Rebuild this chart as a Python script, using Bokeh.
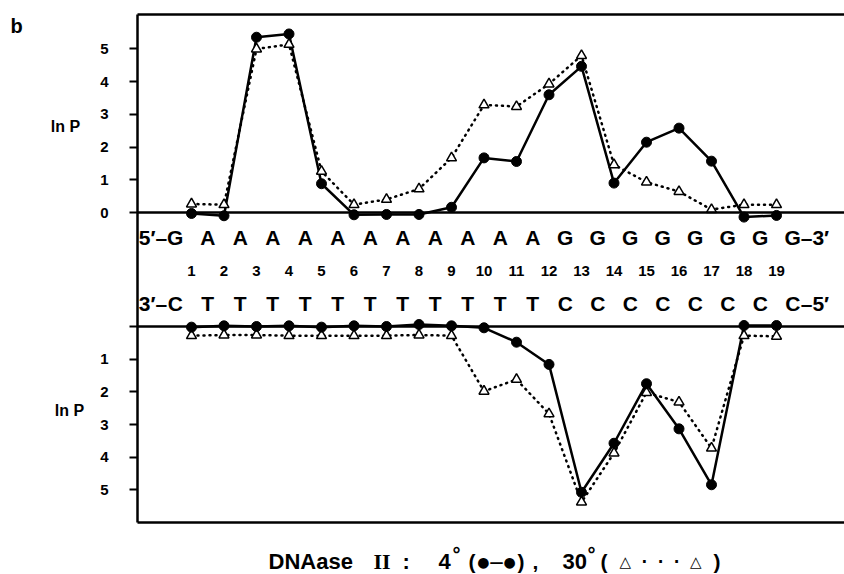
from bokeh.plotting import figure
from bokeh.models import (Range1d, LinearAxis, FixedTicker, Span, ColumnDataSource)
from bokeh.layouts import row, column
from bokeh.embed import file_html
from bokeh.resources import INLINE
from bokeh.core.properties import value

# ---------------- data ----------------
positions = list(range(1, 20))

# upper strand, ln P
top_4c = [-0.03, -0.10, 5.36, 5.46, 0.88, -0.07, -0.06, -0.06, 0.16, 1.67,
          1.56, 3.60, 4.47, 0.90, 2.15, 2.58, 1.57, -0.14, -0.09]
top_30c = [0.26, 0.24, 5.00, 5.14, 1.26, 0.24, 0.40, 0.72, 1.67, 3.29,
           3.24, 3.93, 4.80, 1.46, 0.93, 0.64, 0.09, 0.24, 0.24]

# lower strand, ln P (plotted downward)
bot_4c = [0.02, -0.02, 0.00, -0.02, 0.02, -0.02, 0.00, -0.06, -0.02, 0.04,
          0.48, 1.16, 5.07, 3.57, 1.75, 3.13, 4.84, -0.03, -0.03]
bot_30c = [0.28, 0.26, 0.26, 0.28, 0.28, 0.28, 0.28, 0.26, 0.28, 1.98,
           1.62, 2.67, 5.37, 3.87, 2.02, 2.31, 3.72, 0.28, 0.30]

upper_seq = list("GAAAAAAAAAAAGGGGGGGG")
lower_seq = list("CTTTTTTTTTTTCCCCCCCC")
seq_x = [k + 0.5 for k in range(len(upper_seq))]   # bases sit between cut sites
number_labels = [str(i) for i in positions]

top_ticks = [0, 1, 2, 3, 4, 5]
bot_ticks = [0, 1, 2, 3, 4, 5]

side_texts = ["b", "ln P", "ln P"]
NB = "\u00a0"
# caption pieces: text, x (px), size, raised?, align, font
caption_parts = [
    ("DNAase", 268, "22px", False, "left", "Liberation Sans"),
    ("II", 373, "22px", False, "left", "Liberation Serif"),
    (":", 402, "22px", False, "left", "Liberation Sans"),
    ("4", 438, "22px", False, "left", "Liberation Sans"),
    ("\u00b0", 452, "20px", True, "left", "Liberation Sans"),
    ("(", 468, "21px", False, "left", "Liberation Sans"),
    ("\u25cf\u2014\u25cf", 496, "14px", False, "center", "DejaVu Sans"),
    (")", 517, "21px", False, "left", "Liberation Sans"),
    (",", 532, "21px", False, "left", "Liberation Sans"),
    ("30", 562, "22px", False, "left", "Liberation Sans"),
    ("\u00b0", 587, "20px", True, "left", "Liberation Sans"),
    ("(", 600, "21px", False, "left", "Liberation Sans"),
    ("\u25b3" + NB * 2 + "\u00b7" + NB * 2 + "\u00b7" + NB * 2 + "\u00b7" + NB * 2 + "\u25b3",
     660, "15px", False, "center", "DejaVu Sans"),
    (")", 713, "21px", False, "left", "Liberation Sans"),
]

FONT = "Liberation Sans"
W, H = 844, 574
LEFT_W = 97
FRAME_LEFT = 137
FRAME_BOTTOM = 522

# ---------------- left strip with the side labels ----------------
left = figure(width=LEFT_W, height=H, output_backend="svg", toolbar_location=None,
              x_range=Range1d(0, LEFT_W), y_range=Range1d(H, 0),
              min_border=0, outline_line_color=None)
left.axis.visible = False
left.grid.visible = False
left.text(x=[16], y=[25], text=[side_texts[0]], text_font=value(FONT),
          text_font_style="bold", text_font_size="20px", text_align="center",
          text_baseline="middle", text_color="black")
left.text(x=[65, 69], y=[126, 410], text=side_texts[1:], text_font=value(FONT),
          text_font_style="bold", text_font_size="16px", text_align="center",
          text_baseline="middle", text_color="black")

# ---------------- main chart ----------------
TOP = (-9.48, 6.055)      # (start, end) of upper-strand scale
BOT = (5.994, -9.541)     # lower-strand scale, increasing downward
X = (-0.6615, 21.092)

def bot_to_top(v):
    frac = (v - BOT[0]) / (BOT[1] - BOT[0])
    return round(TOP[0] + frac * (TOP[1] - TOP[0]), 5)

p = figure(width=W - LEFT_W, height=FRAME_BOTTOM + 2, output_backend="svg",
           toolbar_location=None, x_range=Range1d(*X), y_range=Range1d(*TOP),
           min_border_left=FRAME_LEFT - LEFT_W, min_border_right=0, min_border_top=14,
           min_border_bottom=2)
p.extra_y_ranges = {"bot": Range1d(*BOT)}
p.grid.visible = False
p.outline_line_color = None

# x axes: only lines (frame top and bottom)
p.xaxis.ticker = FixedTicker(ticks=[])
p.xaxis.axis_line_width = 2.5
p.xaxis.major_label_text_font_size = "0px"
p.xaxis.major_tick_line_color = None
p.xaxis.minor_tick_line_color = None
p.xaxis.major_tick_out = 0
p.xaxis.major_label_standoff = 0
top_ax = LinearAxis(ticker=FixedTicker(ticks=[]), axis_line_width=2.5,
                    major_label_text_font_size="0px", major_tick_out=0,
                    major_label_standoff=0,
                    major_tick_line_color=None, minor_tick_line_color=None)
p.add_layout(top_ax, "above")

# y axis: labels for both panels
yt = [float(t) for t in top_ticks] + [bot_to_top(t) for t in bot_ticks]
overrides = {float(t): str(t) for t in top_ticks}
for t in bot_ticks:
    overrides[bot_to_top(t)] = "" if t == 0 else str(t)
p.yaxis.ticker = FixedTicker(ticks=yt)
p.yaxis.major_label_overrides = overrides
p.yaxis.axis_line_width = 2.5
p.yaxis.major_tick_line_width = 2
p.yaxis.major_tick_out = 8
p.yaxis.major_tick_in = 0
p.yaxis.minor_tick_line_color = None
p.yaxis.major_label_standoff = 21
p.yaxis.major_label_text_font = FONT
p.yaxis.major_label_text_font_style = "bold"
p.yaxis.major_label_text_font_size = "15px"
p.yaxis.major_label_text_color = "black"

# zero lines
p.add_layout(Span(location=0, dimension="width", line_color="black", line_width=2.5))
p.add_layout(Span(location=0, dimension="width", line_color="black", line_width=2.5,
                  y_range_name="bot"))

# ---------------- series ----------------
DOT = "1 5"
p.line(positions, top_30c, line_color="black", line_width=2.5, line_dash=DOT, line_cap="round")
p.line(positions, top_4c, line_color="black", line_width=2.5)
p.scatter(positions, top_30c, marker="triangle", size=10, fill_color="white",
          line_color="black", line_width=1.5)
p.scatter(positions, top_4c, marker="circle", size=10, fill_color="black",
          line_color="black")

p.line(positions, bot_30c, line_color="black", line_width=2.5, line_dash=DOT,
       line_cap="round", y_range_name="bot")
p.line(positions, bot_4c, line_color="black", line_width=2.5, y_range_name="bot")
p.scatter(positions, bot_30c, marker="triangle", size=10, fill_color="white",
          line_color="black", line_width=1.5, y_range_name="bot")
p.scatter(positions, bot_4c, marker="circle", size=10, fill_color="black",
          line_color="black", y_range_name="bot")

# ---------------- sequence text ----------------
ROW_UP, ROW_NUM, ROW_LO = -0.77, -1.80, -2.78
seq_src = ColumnDataSource(dict(x=seq_x, up=upper_seq, lo=lower_seq,
                                yu=[ROW_UP] * len(seq_x), yl=[ROW_LO] * len(seq_x)))
common = dict(text_font=value(FONT), text_font_style="bold", text_color="black",
              text_align="center", text_baseline="middle")
p.text(x="x", y="yu", text="up", source=seq_src, text_font_size="21px", **common)
p.text(x="x", y="yl", text="lo", source=seq_src, text_font_size="21px", **common)
p.text(x=positions, y=[ROW_NUM] * len(positions), text=number_labels,
       text_font_size="15px", **common)

ends = dict(text_font=value(FONT), text_font_style="bold", text_color="black",
            text_baseline="middle", text_font_size="21px")
p.text(x=[seq_x[0]], y=[ROW_UP], text=["5\u2032\u2013"], text_align="right", x_offset=-8, **ends)
p.text(x=[seq_x[0]], y=[ROW_LO], text=["3\u2032\u2013"], text_align="right", x_offset=-8, **ends)
p.text(x=[seq_x[-1]], y=[ROW_UP], text=["\u20133\u2032"], text_align="left", x_offset=8, **ends)
p.text(x=[seq_x[-1]], y=[ROW_LO], text=["\u20135\u2032"], text_align="left", x_offset=8, **ends)

# ---------------- caption strip ----------------
CAP_H = H - (FRAME_BOTTOM + 2)
cap = figure(width=W - LEFT_W, height=CAP_H, output_backend="svg", toolbar_location=None,
             x_range=Range1d(FRAME_LEFT, W), y_range=Range1d(H, FRAME_BOTTOM + 2),
             min_border_left=FRAME_LEFT - LEFT_W, min_border_right=0,
             min_border_top=0, min_border_bottom=0, outline_line_color=None)
cap.axis.visible = False
cap.grid.visible = False
for txt, x0, size, raised, align, font in caption_parts:
    cap.text(x=[x0], y=[553 if raised else 561], text=[txt], text_font=value(font),
             text_font_style="bold", text_font_size=size, text_align=align,
             text_baseline="middle", text_color="black")

layout = row(left, column(p, cap))
open("out.html", "w").write(file_html(layout, INLINE))
